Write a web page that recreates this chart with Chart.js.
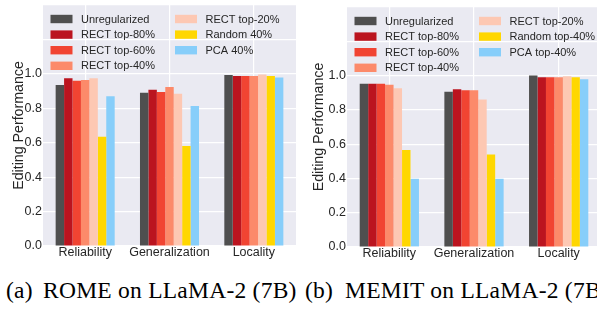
<!DOCTYPE html>
<html>
<head>
<meta charset="utf-8">
<script src="https://cdn.jsdelivr.net/npm/chart.js@4.4.0/dist/chart.umd.min.js"></script>
<style>
html, body { margin: 0; padding: 0; background: #fff; overflow: hidden; width: 597px; height: 309px; }
canvas { display: block; }
#wrapRome { position: absolute; left: 0; top: 0; }
#wrapMemit { position: absolute; left: 300px; top: 0; }
.cap { position: absolute; top: 279px; font: 23.5px/23px "Liberation Serif", "Times New Roman", serif; letter-spacing: 0.25px; color: #000; white-space: nowrap; }
</style>
</head>
<body>
<div id="wrapRome"><canvas id="romeChart" width="300" height="262"></canvas></div>
<div id="wrapMemit"><canvas id="memitChart" width="302" height="262"></canvas></div>
<span class="cap" style="left:6px">(a)</span>
<span class="cap" style="left:43px">ROME on LLaMA-2 (7B)</span>
<span class="cap" style="left:305px">(b)</span>
<span class="cap" style="left:345px">MEMIT on LLaMA-2 (7B)</span>
<script>
const categories = ['Reliability', 'Generalization', 'Locality'];

const romeLabels = ['Unregularized', 'RECT top-80%', 'RECT top-60%', 'RECT top-40%', 'RECT top-20%', 'Random 40%', 'PCA 40%'];
const memitLabels = ['Unregularized', 'RECT top-80%', 'RECT top-60%', 'RECT top-40%', 'RECT top-20%', 'Random top-40%', 'PCA top-40%'];

// (a) ROME on LLaMA-2 (7B)
const romeUnreg  = [0.935, 0.890, 0.994];
const romeTop80  = [0.975, 0.907, 0.988];
const romeTop60  = [0.960, 0.895, 0.988];
const romeTop40  = [0.965, 0.924, 0.988];
const romeTop20  = [0.975, 0.884, 0.996];
const romeRandom = [0.634, 0.581, 0.988];
const romePca    = [0.870, 0.814, 0.979];

// (b) MEMIT on LLaMA-2 (7B)
const memitUnreg  = [0.953, 0.906, 1.000];
const memitTop80  = [0.953, 0.920, 0.990];
const memitTop60  = [0.953, 0.914, 0.990];
const memitTop40  = [0.947, 0.914, 0.990];
const memitTop20  = [0.926, 0.861, 0.996];
const memitRandom = [0.566, 0.539, 0.990];
const memitPca    = [0.398, 0.398, 0.978];

const barColors = ['#4f4f4f', '#bb141f', '#f14432', '#fc8a6a', '#fdc8b3', '#ffd700', '#87cefa'];

//Plot background (seaborn darkgrid)
const plotBackground = {
    id: 'plotBackground',
    beforeDraw(chart) {
        const a = chart.chartArea;
        const ctx = chart.ctx;
        ctx.save();
        ctx.fillStyle = '#eaeaf2';
        ctx.fillRect(a.left, a.top, a.right - a.left, a.bottom - a.top);
        ctx.restore();
    }
};

//Two-column legend inside the plot (4 + 3 rows)
const gridLegend = {
    id: 'gridLegend',
    afterDatasetsDraw(chart) {
        const a = chart.chartArea;
        const ctx = chart.ctx;
        ctx.save();
        ctx.font = '11px "Liberation Sans", Arial, sans-serif';
        ctx.textBaseline = 'middle';
        ctx.textAlign = 'left';
        chart.data.datasets.forEach(function (ds, i) {
            let col = i < 4 ? 0 : 1;
            let row = i < 4 ? i : i - 4;
            let x = a.left + (col === 0 ? 7.5 : 132);
            let y = a.top + 14 + row * 15.6;
            ctx.fillStyle = ds.backgroundColor;
            ctx.fillRect(x, y - 4.2, 22, 8.4);
            ctx.fillStyle = '#262626';
            ctx.fillText(ds.label, x + 30.5, y + 0.5);
        });
        ctx.restore();
    }
};

function buildChart(canvasId, labels, series, yWidth, xHeight, padTop, padRight) {
    let datasets = series.map(function (values, i) {
        return {
            label: labels[i],
            data: values,
            backgroundColor: barColors[i],
            borderWidth: 0,
            barPercentage: 1.0,
            categoryPercentage: 0.7
        };
    });
    return new Chart(document.getElementById(canvasId), {
        type: 'bar',
        data: { labels: categories, datasets: datasets },
        plugins: [plotBackground, gridLegend],
        options: {
            responsive: false,
            animation: false,
            devicePixelRatio: 1,
            layout: { padding: { top: padTop, right: padRight, left: 0, bottom: 0 } },
            plugins: { legend: { display: false }, tooltip: { enabled: false } },
            scales: {
                x: {
                    grid: { color: '#ffffff', lineWidth: 1.2, offset: false, drawTicks: false },
                    border: { display: false },
                    ticks: {
                        padding: -1,
                        maxRotation: 0,
                        minRotation: 0,
                        autoSkip: false,
                        color: '#262626',
                        font: { family: '"Liberation Sans", Arial, sans-serif', size: 12.5 }
                    },
                    afterFit: function (scale) {
                        scale.height = xHeight;
                        scale.paddingLeft = 0;
                        scale.paddingRight = 0;
                    }
                },
                y: {
                    min: 0,
                    max: 1.4,
                    grid: { color: '#ffffff', lineWidth: 1.2, drawTicks: false },
                    border: { display: false },
                    ticks: {
                        stepSize: 0.2,
                        padding: 1,
                        color: '#262626',
                        font: { family: '"Liberation Sans", Arial, sans-serif', size: 12.5 },
                        callback: function (v) { return v > 1.0001 ? '' : v.toFixed(1); }
                    },
                    title: {
                        display: true,
                        text: 'Editing Performance',
                        color: '#262626',
                        padding: { top: 11, bottom: 0 },
                        font: { family: '"Liberation Sans", Arial, sans-serif', size: 14.2 }
                    },
                    afterFit: function (scale) {
                        scale.width = yWidth;
                        scale.paddingTop = 0;
                        scale.paddingBottom = 0;
                    }
                }
            }
        }
    });
}

buildChart('romeChart', romeLabels,
    [romeUnreg, romeTop80, romeTop60, romeTop40, romeTop20, romeRandom, romePca],
    43, 16, 5, 4);
buildChart('memitChart', memitLabels,
    [memitUnreg, memitTop80, memitTop60, memitTop40, memitTop20, memitRandom, memitPca],
    47, 15, 7, 1);
</script>
</body>
</html>
